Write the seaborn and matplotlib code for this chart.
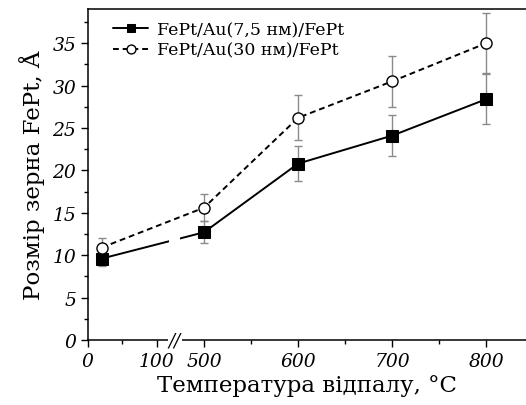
import numpy as np
import pandas as pd
import seaborn as sns
import matplotlib.pyplot as plt
from matplotlib.ticker import FixedLocator, FixedFormatter

temps = [20, 500, 600, 700, 800]
size_75 = [9.6, 12.7, 20.8, 24.1, 28.4]
err_75 = [0.9, 1.3, 2.1, 2.4, 2.9]
size_30 = [10.9, 15.6, 26.2, 30.5, 35.0]
err_30 = [1.1, 1.6, 2.65, 3.0, 3.5]
labels = ['FePt/Au(7,5 нм)/FePt', 'FePt/Au(30 нм)/FePt']
xticks = [0, 100, 500, 600, 700, 800]

df = pd.DataFrame({'T': temps, 's75': size_75, 's30': size_30})

# broken axis: 0..125 squeezed, 470..1000 normal
t_kn = [0, 125, 470, 1000]
u_kn = [0, 86.25, 87.8, 87.8 + 530 * 0.94]
fwd = lambda t: np.interp(t, t_kn, u_kn)
inv = lambda u: np.interp(u, u_kn, t_kn)

sns.set_style('ticks')
plt.rcParams['font.family'] = ['DejaVu Serif']
plt.rcParams['mathtext.fontset'] = 'dejavuserif'
plt.rcParams.update({'text.color': 'black', 'axes.labelcolor': 'black',
                     'xtick.color': 'black', 'ytick.color': 'black',
                     'axes.edgecolor': 'black'})

fig = plt.figure(figsize=(5.26, 4.06), dpi=100)
ax = fig.add_axes([0.167, 0.160, 0.833, 0.815])
ax.set_xscale('function', functions=(fwd, inv))

ax.errorbar(temps, size_75, yerr=err_75, fmt='none', ecolor='#8a8a8a',
            elinewidth=1, capsize=3, capthick=1, zorder=1)
ax.errorbar(temps, size_30, yerr=err_30, fmt='none', ecolor='#8a8a8a',
            elinewidth=1, capsize=3, capthick=1, zorder=1)

sns.lineplot(data=df, x='T', y='s75', ax=ax, color='black', lw=1.4,
             marker='s', markersize=8, mec='black', mfc='black',
             label=labels[0], zorder=3)
sns.lineplot(data=df, x='T', y='s30', ax=ax, color='black', lw=1.4,
             marker='o', markersize=8, mec='black', mfc='white', mew=1,
             label=labels[1], zorder=3)
ax.lines[-1].set_dashes((3, 2))

ax.set_xlim(0, 842)
ax.set_ylim(0, 39)

# gap in the solid line at the break
ax.axvspan(inv(81), inv(92), ymin=0.005, ymax=0.33, color='white', lw=0, zorder=4)
ax.annotate('//', xy=(inv(87), 0), xycoords=('data', 'axes fraction'),
            ha='center', va='center', fontsize=13, style='italic',
            bbox=dict(boxstyle='square,pad=0.05', fc='white', ec='none'),
            zorder=6, annotation_clip=False)

ax.xaxis.set_major_locator(FixedLocator(xticks))
ax.xaxis.set_major_formatter(FixedFormatter([str(v) for v in xticks]))
ax.xaxis.set_minor_locator(FixedLocator([50, 550, 650, 750]))
ax.set_yticks(np.arange(0, 36, 5))
ax.set_yticks(np.arange(0, 39, 2.5), minor=True)
ax.tick_params(which='major', length=5, width=1, labelsize=13.5, direction='out')
ax.tick_params(which='minor', length=3, width=1, direction='out')
for lab in ax.get_xticklabels() + ax.get_yticklabels():
    lab.set_fontstyle('italic')

ax.spines['right'].set_visible(False)
for s in ['left', 'bottom', 'top']:
    ax.spines[s].set_linewidth(1.1)

ax.set_xlabel('Температура відпалу, °С', fontsize=16.5, labelpad=3)
ax.set_ylabel('Розмір зерна FePt, Å', fontsize=16.5, labelpad=5)

leg = ax.legend(loc='upper left', frameon=False, fontsize=12.5, handlelength=2.0,
                handletextpad=0.5, labelspacing=0.2, borderaxespad=0.3,
                markerscale=0.8, bbox_to_anchor=(0.03, 1.0))

fig.savefig('out.png', dpi=100)
